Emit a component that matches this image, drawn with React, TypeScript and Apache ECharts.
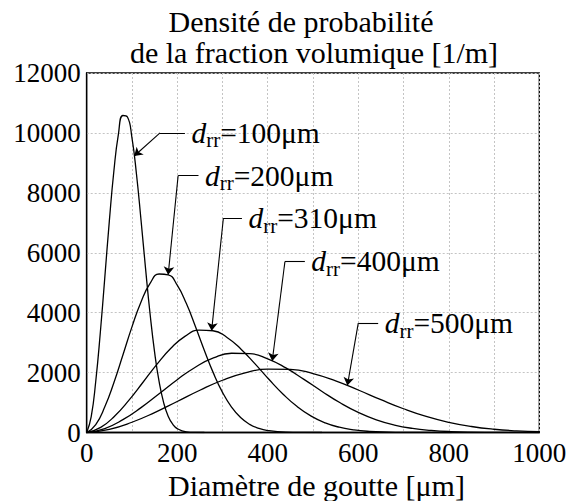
import React, { useEffect, useRef } from 'react';
import * as echarts from 'echarts';

// Diameter (µm) and volume-fraction density (1/m)
const d100 = [0, 10, 20, 30, 40, 50, 60, 70, 80, 90, 100, 110, 120, 130, 140, 150, 160, 170, 180, 190, 200, 220, 240, 260];
const f100 = [0, 532, 1711, 3319, 5175, 7054, 8719, 9951, 10582, 10530, 9834, 8622, 7095, 5479, 3964, 2682, 1695, 998, 546, 278, 131, 23, 3, 0];

const d200 = [0, 20, 40, 60, 80, 100, 120, 140, 160, 180, 200, 220, 240, 260, 280, 300, 320, 340, 360, 380, 400, 440, 480, 520];
const f200 = [0, 266, 856, 1660, 2588, 3527, 4360, 4976, 5291, 5265, 4917, 4311, 3548, 2740, 1982, 1341, 848, 499, 273, 139, 66, 12, 2, 0];

const d310 = [0, 31, 62, 93, 124, 155, 186, 217, 248, 279, 310, 341, 372, 403, 434, 465, 496, 527, 558, 589, 620, 682, 744, 806];
const f310 = [0, 172, 552, 1071, 1669, 2275, 2813, 3210, 3414, 3397, 3172, 2781, 2289, 1767, 1279, 865, 547, 322, 176, 90, 42, 7, 1, 0];

const d400 = [0, 40, 80, 120, 160, 200, 240, 280, 320, 360, 400, 440, 480, 520, 560, 600, 640, 680, 720, 760, 800, 880, 960, 1000];
const f400 = [0, 133, 428, 830, 1294, 1764, 2180, 2488, 2646, 2633, 2459, 2156, 1774, 1370, 991, 671, 424, 250, 137, 70, 33, 6, 1, 0];

const d500 = [0, 50, 100, 150, 200, 250, 300, 350, 400, 450, 500, 550, 600, 650, 700, 750, 800, 850, 900, 950, 1000];
const f500 = [0, 106, 342, 664, 1035, 1411, 1744, 1990, 2116, 2106, 1967, 1724, 1419, 1096, 793, 536, 339, 200, 109, 56, 26];

const seriesLabels = ['100', '200', '310', '400', '500'];
const xTickStep = 100;
const yTickStep = 2000;

// Annotation leaders in data units: text end of the horizontal stroke, elbow, arrow tip
const annotations = [
  { label: '100', end: [217, 10000], elbow: [162, 10000], tip: [105, 9230] },
  { label: '200', end: [247, 8573], elbow: [202, 8573], tip: [180, 5265] },
  { label: '310', end: [343, 7159], elbow: [302, 7159], tip: [276, 3400] },
  { label: '400', end: [482, 5709], elbow: [438, 5709], tip: [410, 2390] },
  { label: '500', end: [644, 3650], elbow: [600, 3650], tip: [576, 1570] },
];

const pairs = (xs: number[], ys: number[]) => xs.map((x, i) => [x, ys[i]]);

export default function App() {
  const ref = useRef<HTMLDivElement>(null);

  useEffect(() => {
    const chart = echarts.init(ref.current as HTMLDivElement, undefined, { renderer: 'svg' });
    const serif = 'Liberation Serif';
    const curves = [
      pairs(d100, f100),
      pairs(d200, f200),
      pairs(d310, f310),
      pairs(d400, f400),
      pairs(d500, f500),
    ];
    const gridLine = { show: true, lineStyle: { color: '#c4c4c4', width: 1, type: [2, 2] as any } };

    chart.setOption({
      animation: false,
      backgroundColor: '#ffffff',
      grid: {
        left: 86.7,
        right: 28.7,
        top: 73,
        bottom: 68.5,
        containLabel: false,
        outerBoundsMode: 'none',
        show: true,
        borderColor: '#000',
        borderWidth: 1.3,
        backgroundColor: 'transparent',
      },
      xAxis: {
        type: 'value',
        min: 0,
        max: 1000,
        interval: xTickStep,
        axisLine: { show: true, lineStyle: { color: '#000', width: 1.3 } },
        axisTick: { show: false },
        splitLine: gridLine,
        axisLabel: {
          formatter: (v: number) => (v % 200 === 0 ? String(v) : ''),
          fontFamily: serif,
          fontSize: 27,
          color: '#000',
          margin: 20,
          verticalAlign: 'middle',
        },
        name: 'Diamètre de goutte [μm]',
        nameLocation: 'middle',
        nameGap: 32,
        nameTextStyle: {
          fontFamily: serif,
          fontSize: 30,
          color: '#000',
          verticalAlign: 'top',
          padding: [0, 0, 0, 7],
        },
      },
      yAxis: {
        type: 'value',
        min: 0,
        max: 12000,
        interval: yTickStep,
        axisLine: { show: true, lineStyle: { color: '#000', width: 1.3 } },
        axisTick: { show: false },
        splitLine: gridLine,
        axisLabel: {
          formatter: (v: number) => String(v),
          fontFamily: serif,
          fontSize: 27,
          color: '#000',
          margin: 6,
          padding: [5, 0, 0, 0],
        },
      },
      graphic: [
        {
          type: 'text',
          x: 301,
          y: 21.6,
          style: {
            text: 'Densité de probabilité',
            fontFamily: serif,
            fontSize: 30,
            fill: '#000',
            align: 'center',
            verticalAlign: 'middle',
            textAlign: 'center',
            textVerticalAlign: 'middle',
          },
        },
        {
          type: 'text',
          x: 314,
          y: 52.2,
          style: {
            text: 'de la fraction volumique [1/m]',
            fontFamily: serif,
            fontSize: 30,
            fill: '#000',
            align: 'center',
            verticalAlign: 'middle',
            textAlign: 'center',
            textVerticalAlign: 'middle',
          },
        },
      ],
      series: [
        ...curves.map((data, i) => ({
          type: 'line',
          name: seriesLabels[i],
          data,
          smooth: 0.5,
          symbol: 'none',
          lineStyle: { color: '#000', width: 1.3 },
          itemStyle: { color: '#000' },
          z: 3,
        })),
        {
          type: 'lines',
          coordinateSystem: 'cartesian2d',
          xAxisIndex: 0,
          yAxisIndex: 0,
          silent: true,
          symbol: ['none', 'none'],
          lineStyle: { color: '#000', width: 1.1, opacity: 1, curveness: 0 },
          data: annotations.map((a) => ({ coords: [a.end, a.elbow] })),
          z: 5,
        },
        {
          type: 'lines',
          coordinateSystem: 'cartesian2d',
          xAxisIndex: 0,
          yAxisIndex: 0,
          silent: true,
          symbol: ['none', 'arrow'],
          symbolSize: 8,
          lineStyle: { color: '#000', width: 1.1, opacity: 1, curveness: 0 },
          data: annotations.map((a) => ({ coords: [a.elbow, a.tip] })),
          z: 5,
        },
        {
          type: 'scatter',
          silent: true,
          symbolSize: 1,
          itemStyle: { color: 'rgba(0,0,0,0)' },
          data: annotations.map((a) => ({ value: a.end, name: a.label })),
          label: {
            show: true,
            position: 'right',
            distance: 6,
            color: '#000',
            opacity: 1,
            textBorderWidth: 0,
            formatter: (p: any) => `{i|d}{s|rr}{n|=${p.name}μm}`,
            rich: {
              i: { fontFamily: serif, fontStyle: 'italic', fontSize: 29.5, lineHeight: 36, color: '#000', textBorderWidth: 0 },
              s: { fontFamily: serif, fontSize: 21, lineHeight: 21, verticalAlign: 'bottom', color: '#000', textBorderWidth: 0 },
              n: { fontFamily: serif, fontSize: 29.5, lineHeight: 36, color: '#000', textBorderWidth: 0 },
            },
          },
          z: 6,
        },
      ],
    });

    return () => chart.dispose();
  }, []);

  return (
    <div
      ref={ref}
      style={{ position: 'absolute', left: 0, top: 0, width: 568, height: 501, background: '#fff' }}
    />
  );
}
